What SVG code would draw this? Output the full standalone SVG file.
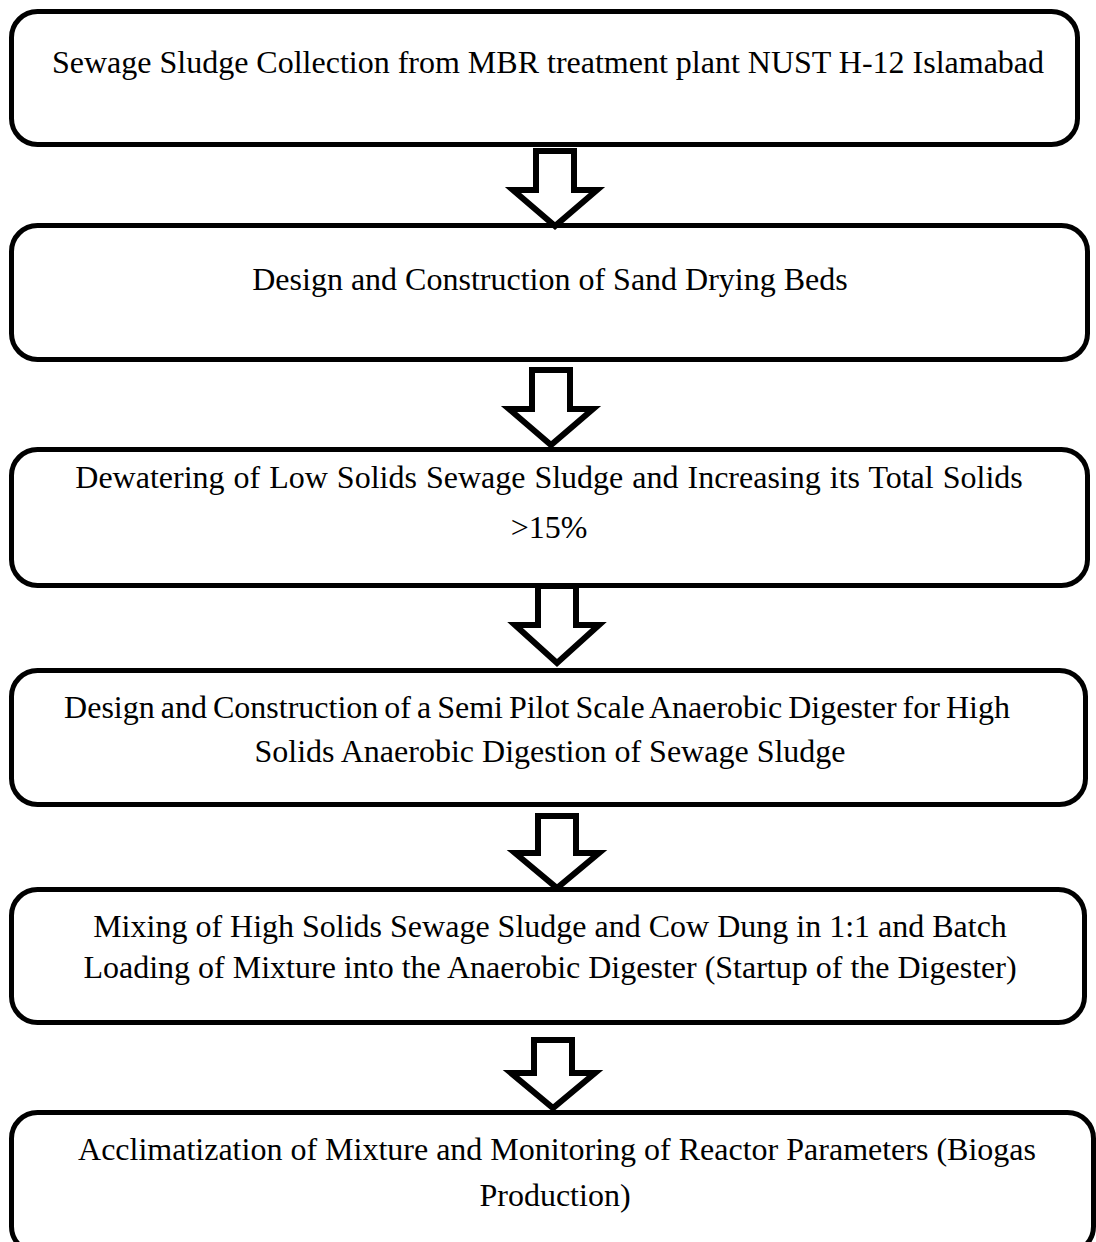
<svg xmlns="http://www.w3.org/2000/svg" width="1096" height="1242" viewBox="0 0 1096 1242">
<style>
.box{fill:#fff;stroke:#000;stroke-width:5}
.arr{fill:#fff;stroke:#000;stroke-width:6;stroke-linejoin:miter;stroke-miterlimit:10}
text{font-family:"Liberation Serif","Times New Roman",serif;font-size:32px;fill:#000;text-anchor:middle}
</style>
<rect width="1096" height="1242" fill="#fff"/>
<g id="n1"><rect class="box" x="11.5" y="11.5" width="1066" height="133" rx="26"/>
<text x="548" y="73">Sewage Sludge Collection from MBR treatment plant NUST H-12 Islamabad</text></g>
<g id="n2"><rect class="box" x="11.5" y="225.5" width="1076" height="134" rx="26"/>
<text x="550" y="290">Design and Construction of Sand Drying Beds</text></g>
<g id="n3"><rect class="box" x="11.5" y="449.5" width="1076" height="136" rx="26"/>
<text x="549" y="488" word-spacing="1">Dewatering of Low Solids Sewage Sludge and Increasing its Total Solids</text>
<text x="549" y="538">&gt;15%</text></g>
<g id="n4"><rect class="box" x="11.5" y="670.5" width="1074" height="134" rx="26"/>
<text x="537" y="718" word-spacing="-2">Design and Construction of a Semi Pilot Scale Anaerobic Digester for High</text>
<text x="550" y="762">Solids Anaerobic Digestion of Sewage Sludge</text></g>
<g id="n5"><rect class="box" x="11.5" y="889.5" width="1073" height="133" rx="26"/>
<text x="550" y="937">Mixing of High Solids Sewage Sludge and Cow Dung in 1:1 and Batch</text>
<text x="550" y="978">Loading of Mixture into the Anaerobic Digester (Startup of the Digester)</text></g>
<g id="n6"><rect class="box" x="11.5" y="1112.5" width="1082" height="140" rx="26"/>
<text x="557" y="1160">Acclimatization of Mixture and Monitoring of Reactor Parameters (Biogas</text>
<text x="555" y="1206">Production)</text></g>
<g id="connectors">
<path class="arr" d="M536,151 H574 V190 H597 L555,226 L513,190 H536 Z"/>
<path class="arr" d="M532,370 H570 V409 H593 L551,445 L509,409 H532 Z"/>
<path class="arr" d="M538,586 H576 V625 H599 L557,663 L515,625 H538 Z"/>
<path class="arr" d="M538,816 H576 V853 H599 L557,888 L515,853 H538 Z"/>
<path class="arr" d="M534,1040 H572 V1073 H595 L553,1108 L511,1073 H534 Z"/>
</g>
</svg>
